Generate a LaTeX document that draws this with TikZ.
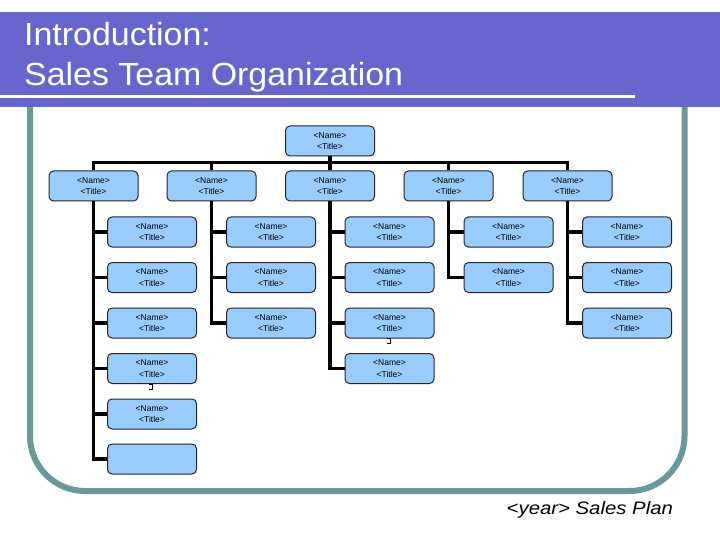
\documentclass[tikz,border=0pt]{standalone}
\usepackage{fontspec}
\setmainfont{Liberation Sans}
\definecolor{bandblue}{RGB}{102,102,204}
\definecolor{frameteal}{RGB}{107,153,153}
\definecolor{boxblue}{RGB}{153,204,255}
\tikzset{
  orgbox/.style={draw=black!85, fill=boxblue, rounded corners=4.5pt, line width=1pt,
    minimum width=89pt, minimum height=30pt, inner sep=0pt, align=center,
    font=\fontsize{8.5}{11.5}\selectfont},
  conn/.style={draw=black, line width=3.8pt},
  glitch/.style={draw=black, line width=0.9pt}
}
\newcommand{\nt}{<Name>\\<Title>}
\begin{document}
\begin{tikzpicture}[x=1pt,y=-1pt]
\useasboundingbox (0,0) rectangle (720,540);
\fill[white] (0,0) rectangle (720,540);
% frame
\draw[frameteal, line width=6pt, rounded corners=55pt] (30,100) -- (30,491) -- (684.5,491) -- (684.5,100);
% title band
\fill[bandblue] (0,12) rectangle (720,107.5);
\draw[white, line width=3.5pt] (0,96.5) -- (635,96.5);
\node[anchor=base west, text=white, inner sep=0pt, font=\fontsize{32}{38}\selectfont] (title1) at (24,46) {\scalebox{1.06}[1]{Introduction:}};
\node[anchor=base west, text=white, inner sep=0pt, font=\fontsize{32}{38}\selectfont] (title2) at (24,85.5) {\scalebox{1.06}[1]{Sales Team Organization}};
% footer
\node[anchor=base west, inner sep=0pt, font=\fontsize{18}{22}\selectfont\itshape] (footer) at (506.5,514) {\scalebox{1.13}[1]{<year> Sales Plan}};
% top box
\node[orgbox] (t) at (330,141) {\nt};
\coordinate (bus) at (330,162.5);
% level 1
\node[orgbox] (a1) at (93.5,186) {\nt};
\node[orgbox] (a2) at (211.5,186) {\nt};
\node[orgbox] (a3) at (330,186) {\nt};
\node[orgbox] (a4) at (448.5,186) {\nt};
\node[orgbox] (a5) at (567.5,186) {\nt};
\draw[conn] (t.south) -- (bus);
\foreach \k in {1,...,5} { \draw[conn] (a\k.north) |- (bus); }
% column 1
\node[orgbox] (c11) at (152,232) {\nt};
\node[orgbox] (c12) at (152,277.5) {\nt};
\node[orgbox] (c13) at (152,323) {\nt};
\node[orgbox] (c14) at (152,368.5) {\nt};
\node[orgbox] (c15) at (152,414) {\nt};
\node[orgbox] (c16) at (152,459) {};
% column 2
\node[orgbox] (c21) at (271,232) {\nt};
\node[orgbox] (c22) at (271,277.5) {\nt};
\node[orgbox] (c23) at (271,323) {\nt};
% column 3
\node[orgbox] (c31) at (389.5,232) {\nt};
\node[orgbox] (c32) at (389.5,277.5) {\nt};
\node[orgbox] (c33) at (389.5,323) {\nt};
\node[orgbox] (c34) at (389.5,368.5) {\nt};
% column 4
\node[orgbox] (c41) at (508.5,232) {\nt};
\node[orgbox] (c42) at (508.5,277.5) {\nt};
% column 5
\node[orgbox] (c51) at (627,232) {\nt};
\node[orgbox] (c52) at (627,277.5) {\nt};
\node[orgbox] (c53) at (627,323) {\nt};
% connectors to children
\foreach \j in {1,...,6} { \draw[conn] (a1.south) |- (c1\j.west); }
\foreach \j in {1,...,3} { \draw[conn] (a2.south) |- (c2\j.west); }
\foreach \j in {1,...,4} { \draw[conn] (a3.south) |- (c3\j.west); }
\foreach \j in {1,...,2} { \draw[conn] (a4.south) |- (c4\j.west); }
\foreach \j in {1,...,3} { \draw[conn] (a5.south) |- (c5\j.west); }
% small marks
\draw[glitch] (c14.south) ++(-3.5,0.5) -- ++(4,0) -- ++(0,5) -- ++(-4,0);
\draw[glitch] (c33.south) ++(-3,0) -- ++(4,0) -- ++(0,5) -- ++(-4,0);
\end{tikzpicture}
\end{document}
